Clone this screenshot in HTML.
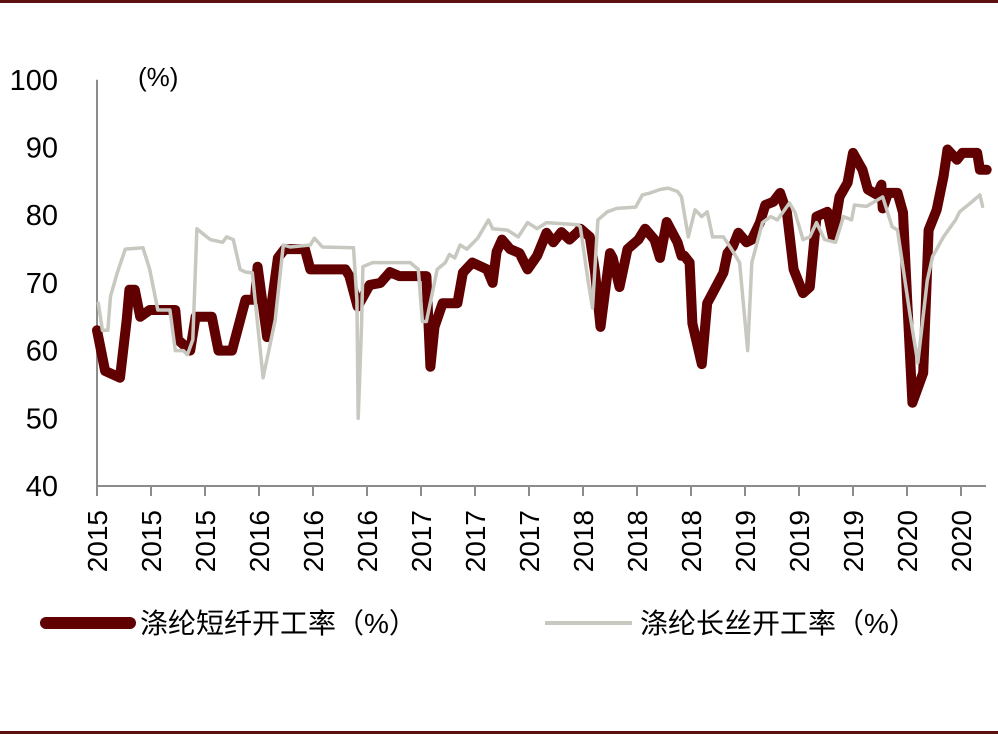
<!DOCTYPE html>
<html><head><meta charset="utf-8"><style>
body{margin:0;background:#fff;}
svg{display:block;font-family:"Liberation Sans","Noto Sans CJK SC",sans-serif;}
</style></head><body>
<svg id="chart" width="998" height="736">
<rect x="0" y="0" width="998" height="3" fill="#5c1010"/>
<rect x="0" y="731" width="998" height="3" fill="#5c1010"/>
<text x="138" y="86" font-size="26" fill="#000">(%)</text>
<g id="yaxis"></g>
<g id="xaxis"></g>
<g id="series"></g>
<g>
<g>
<line x1="46" y1="623" x2="130" y2="623" stroke="#600000" stroke-width="12" stroke-linecap="round"/>
<text x="140" y="633" font-size="28" fill="#000">涤纶短纤开工率（%）</text></g>
<g>
<line x1="545" y1="623" x2="632" y2="623" stroke="#c8c8c0" stroke-width="4"/>
<text x="640" y="633" font-size="28" fill="#000">涤纶长丝开工率（%）</text></g>
</g>
</svg>
<script>
const yTicks=[40,50,60,70,80,90,100];
const xTickLabels=["2015","2015","2015","2016","2016","2016","2017","2017","2017","2018","2018","2018","2019","2019","2019","2020","2020"];
const shortMonths=[0,0.6,1.7,2.2,2.4,2.8,3.2,3.9,5.8,6.0,6.9,7.3,8.5,9.0,10.0,10.4,11.0,11.7,11.9,12.6,13.4,13.9,15.4,15.8,18.4,18.7,19.3,20.2,21.0,21.7,22.4,24.4,24.7,25.0,25.6,26.7,27.1,27.8,28.9,29.3,29.6,30.0,30.6,31.3,31.9,32.6,33.3,33.8,34.4,35.0,35.6,35.8,36.5,36.9,37.3,38.0,38.2,38.7,39.3,40.1,40.6,41.3,41.7,42.2,43.0,43.3,43.5,43.9,44.1,44.8,45.2,45.6,46.4,46.7,47.1,47.5,48.1,48.5,49.1,49.5,50.1,50.6,51.1,51.6,52.3,52.8,53.3,54.1,54.5,55.0,55.6,56.0,56.7,57.1,57.8,58.1,58.2,58.6,59.3,59.7,60.0,60.4,61.2,61.6,62.2,62.7,63.0,63.7,64.1,65.2,65.4,65.9];
const shortValues=[63,57,56,64.5,69,69,65,66,66,61.6,60,65,65,60,60,63,67.5,67.5,72.4,62,73.7,75,75,72,72,71,66.5,69.7,70,71.6,71,71,57.6,63.5,67,67,71.5,73,72,70,74.6,76.4,75,74.4,72,74,77.4,76,77.5,76.4,77.5,78,76.8,71.5,63.5,74.4,73.7,69.4,75,76.4,78,76.4,73.7,79,76,74,74,73,64,58,67,68.5,71.5,74.4,75.4,77.4,76,76.4,78.9,81.5,82,83.3,80.4,72,68.5,69.4,79.8,80.5,76.8,82.7,84.8,89.2,86.7,83.8,83,84.5,81,83.3,83.3,80.4,68,52.3,56.7,77.8,80.8,85.7,89.7,88.2,89.2,89.2,86.7,86.7];
const longMonths=[0.1,0.4,0.8,1.0,1.5,2.1,3.4,3.9,4.3,4.5,5.4,5.8,6.4,6.7,7.1,7.4,8.0,8.4,9.3,9.6,10.1,10.6,11.0,11.5,12.3,13.2,13.8,14.3,15.8,16.1,16.7,19.0,19.25,19.35,19.6,19.7,20.4,23.2,23.8,24.1,24.4,25.2,25.8,26.1,26.5,26.9,27.4,28.2,29.0,29.3,30.4,31.2,31.9,32.6,33.3,35.6,35.8,36.4,36.7,37.1,37.8,38.5,39.9,40.4,41.0,41.7,42.3,43.0,43.3,43.8,44.3,44.8,45.2,45.6,46.4,47.0,47.6,48.2,48.5,49.3,49.9,50.4,51.3,51.7,52.3,52.8,53.3,53.9,54.7,55.3,55.9,56.1,57.0,58.2,58.9,59.3,60.2,60.8,61.5,61.9,62.7,63.6,63.9,64.7,65.4,65.6];
const longValues=[67,63,63,68,71.5,75,75.2,72,68,66,66,60,60,59.4,61.6,78,77,76.4,76,76.8,76.4,72,71.6,71.5,56,64.5,75.6,75.3,75.6,76.6,75.3,75.2,67.5,50,64,72.4,73,73,72,64.3,64.3,72,73,74.2,73.7,75.6,75,76.6,79.3,78,77.8,76.8,78.9,78,78.9,78.6,78.3,70,66.3,79.3,80.5,81,81.2,83,83.3,83.8,84,83.5,82.7,76.8,80.8,79.8,80.5,76.8,76.8,75,73,60,73,78.9,79.8,79.3,81.8,80.4,76.4,76.8,78.9,76.4,76,79.8,79.3,81.5,81.3,82.7,78.3,77.8,65.6,58.2,70.4,73.9,76.8,79.3,80.5,81.8,83,81.3];

const X0=97,PXM=13.5,Y0=486,PXU=6.77,XR=986;
const xs=m=>X0+m*PXM;
const ys=v=>Y0-(v-40)*PXU;
const NS="http://www.w3.org/2000/svg";
function mk(tag,attrs,parent){const e=document.createElementNS(NS,tag);for(const k in attrs)e.setAttribute(k,attrs[k]);parent.appendChild(e);return e;}
const yg=document.getElementById('yaxis'),xg=document.getElementById('xaxis'),sg=document.getElementById('series');
const yl=mk('line',{x1:X0,y1:ys(100),x2:X0,y2:Y0,stroke:'#8c8c8c','stroke-width':2},yg);


yTicks.forEach(v=>{const t=mk('text',{x:58,y:ys(v)+10,'font-size':29,'text-anchor':'end',fill:'#000'},yg);t.textContent=v;

});
const xl=mk('line',{x1:X0,y1:Y0,x2:XR,y2:Y0,stroke:'#8c8c8c','stroke-width':2},xg);


xTickLabels.forEach((s,i)=>{const x=xs(i*4);
const tk=mk('line',{x1:x,y1:Y0,x2:x,y2:Y0+10,stroke:'#8c8c8c','stroke-width':2},xg);


const t=mk('text',{x:0,y:0,'font-size':28,'text-anchor':'end',fill:'#000',transform:`translate(${x+10},${Y0+24}) rotate(-90)`},xg);t.textContent=s;

});
function line(ms,vs,color,w,name){const d=ms.map((m,i)=>(i?'L':'M')+xs(m).toFixed(1)+','+ys(vs[i]).toFixed(1)).join('');
const p=mk('path',{d:d,fill:'none',stroke:color,'stroke-width':w,'stroke-linejoin':'round','stroke-linecap':'round'},sg);

}
line(shortMonths,shortValues,'#600000',10,'short-fiber-line');
line(longMonths,longValues,'#c8c8c0',3.5,'filament-line');
</script>
</body></html>
